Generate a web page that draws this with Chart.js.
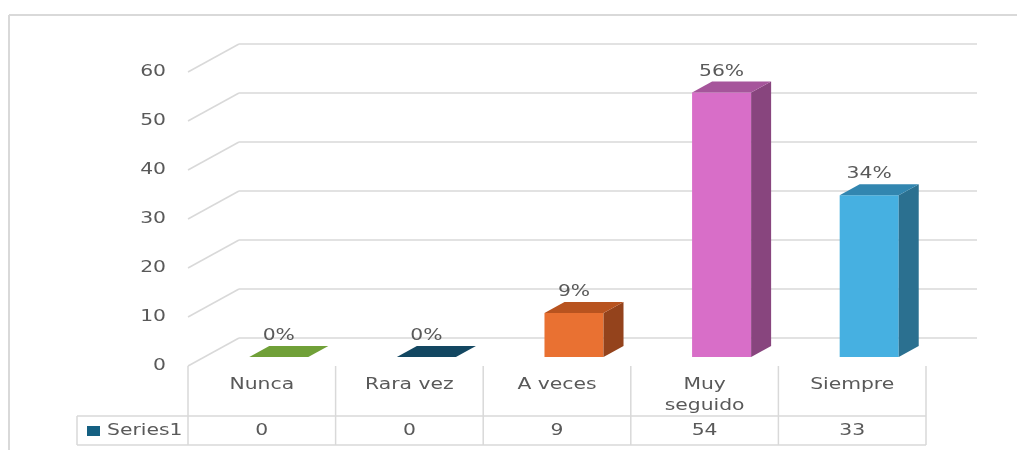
<!DOCTYPE html>
<html>
<head>
<meta charset="utf-8">
<script src="https://cdn.jsdelivr.net/npm/chart.js@4"></script>
<style>
  html, body { margin: 0; padding: 0; background: #fff; }
  canvas { display: block; }
</style>
</head>
<body>
<canvas id="chart" width="1017" height="450"></canvas>
<script>
// data
var categories = ['Nunca', 'Rara vez', 'A veces', 'Muy seguido', 'Siempre'];
var values = [0, 0, 9, 54, 33];
var percentLabels = ['0%', '0%', '9%', '56%', '34%'];
var yTicks = [0, 10, 20, 30, 40, 50, 60];
var seriesName = 'Series1';

// colours: front, top, side
var frontColors = ['#70a038', '#134761', '#e97132', '#d86ec8', '#46b0e1'];
var topColors = ['#70a038', '#134761', '#b8531f', '#a6559b', '#3286b0'];
var sideColors = ['#5b8430', '#0e3a50', '#94431c', '#88457e', '#2b7090'];

var GRID = '#d9d9d9';
var TEXT = '#595959';
var FONT = '16px "DejaVu Sans"';
var STRETCH = 1.27;

// 3d offsets
var WALL_DX = 51, WALL_DY = 28;   // floor front -> back wall
var BAR_OX = 17, BAR_OY = 9;      // floor front -> bar front plane
var BAR_DX = 20, BAR_DY = 11;     // bar depth

function txt(ctx, s, x, y, align) {
    ctx.save();
    ctx.translate(x, y);
    ctx.scale(STRETCH, 1);
    ctx.font = FONT;
    ctx.fillStyle = TEXT;
    ctx.textAlign = align || 'center';
    ctx.textBaseline = 'middle';
    ctx.fillText(s, 0, 0);
    ctx.restore();
}

function line(ctx, x1, y1, x2, y2) {
    ctx.beginPath();
    ctx.moveTo(x1, y1);
    ctx.lineTo(x2, y2);
    ctx.stroke();
}

function poly(ctx, pts, color) {
    ctx.beginPath();
    ctx.moveTo(pts[0][0], pts[0][1]);
    for (var i = 1; i < pts.length; i++) ctx.lineTo(pts[i][0], pts[i][1]);
    ctx.closePath();
    ctx.fillStyle = color;
    ctx.fill();
}

var excel3d = {
    id: 'excel3d',
    beforeDraw: function (chart) {
        var ctx = chart.ctx;
        var xs = chart.scales.x, ys = chart.scales.y;
        var area = chart.chartArea;
        var colW = (area.right - area.left) / categories.length;

        ctx.save();
        ctx.fillStyle = '#fff';
        ctx.fillRect(0, 0, chart.width, chart.height);

        // outer frame
        ctx.strokeStyle = GRID;
        ctx.lineWidth = 2;
        line(ctx, 9, 15, chart.width, 15);
        line(ctx, 9, 15, 9, chart.height);

        // walls: diagonal + back gridlines
        ctx.lineWidth = 1.5;
        yTicks.forEach(function (t) {
            var y = ys.getPixelForValue(t);
            line(ctx, area.left, y, area.left + WALL_DX, y - WALL_DY);
            line(ctx, area.left + WALL_DX, y - WALL_DY, area.right + WALL_DX, y - WALL_DY);
            txt(ctx, String(t), area.left - 22, y, 'right');
        });

        // data table
        var top = area.bottom, mid = area.bottom + 50, bot = area.bottom + 79;
        var keyLeft = 77;
        for (var i = 0; i <= categories.length; i++) {
            var x = area.left + i * colW;
            line(ctx, x, top, x, bot);
        }
        line(ctx, keyLeft, mid, keyLeft, bot);
        line(ctx, keyLeft, mid, area.right, mid);
        line(ctx, keyLeft, bot, area.right, bot);

        ctx.font = FONT;
        categories.forEach(function (c, i) {
            var cx = xs.getPixelForValue(i);
            var w = ctx.measureText(c).width * STRETCH;
            if (w > colW - 32 && c.indexOf(' ') > 0) {
                var parts = c.split(' ');
                txt(ctx, parts[0], cx, top + 19);
                txt(ctx, parts.slice(1).join(' '), cx, top + 40);
            } else {
                txt(ctx, c, cx, top + 19);
            }
            txt(ctx, String(values[i]), cx, top + 65);
        });
        ctx.fillStyle = '#156082';
        ctx.fillRect(87, top + 60, 13, 10);
        txt(ctx, seriesName, 107, top + 65, 'left');
        ctx.restore();
    },
    beforeDatasetsDraw: function (chart) {
        chart.ctx.save();
        chart.ctx.translate(BAR_OX, -BAR_OY);
    },
    afterDatasetsDraw: function (chart) {
        var ctx = chart.ctx;
        var meta = chart.getDatasetMeta(0);
        meta.data.forEach(function (bar, i) {
            var x1 = bar.x - bar.width / 2, x2 = bar.x + bar.width / 2;
            var t = bar.y, b = bar.base;
            if (b - t > 0.5) {
                poly(ctx, [[x2, t], [x2 + BAR_DX, t - BAR_DY], [x2 + BAR_DX, b - BAR_DY], [x2, b]], sideColors[i]);
            }
            poly(ctx, [[x1, t], [x1 + BAR_DX, t - BAR_DY], [x2 + BAR_DX, t - BAR_DY], [x2, t]], topColors[i]);
            txt(ctx, percentLabels[i], bar.x, t - 21);
        });
        ctx.restore();
    }
};

new Chart(document.getElementById('chart').getContext('2d'), {
    type: 'bar',
    data: {
        labels: categories,
        datasets: [{
            label: seriesName,
            data: values,
            backgroundColor: frontColors,
            borderWidth: 0,
            barPercentage: 0.4,
            categoryPercentage: 1
        }]
    },
    options: {
        responsive: false,
        animation: false,
        devicePixelRatio: 1,
        layout: { padding: { left: 188, right: 91, top: 72, bottom: 84 } },
        scales: {
            x: { display: false },
            y: { display: false, min: 0, max: 60 }
        },
        plugins: {
            legend: { display: false },
            tooltip: { enabled: false }
        }
    },
    plugins: [excel3d]
});
</script>
</body>
</html>
